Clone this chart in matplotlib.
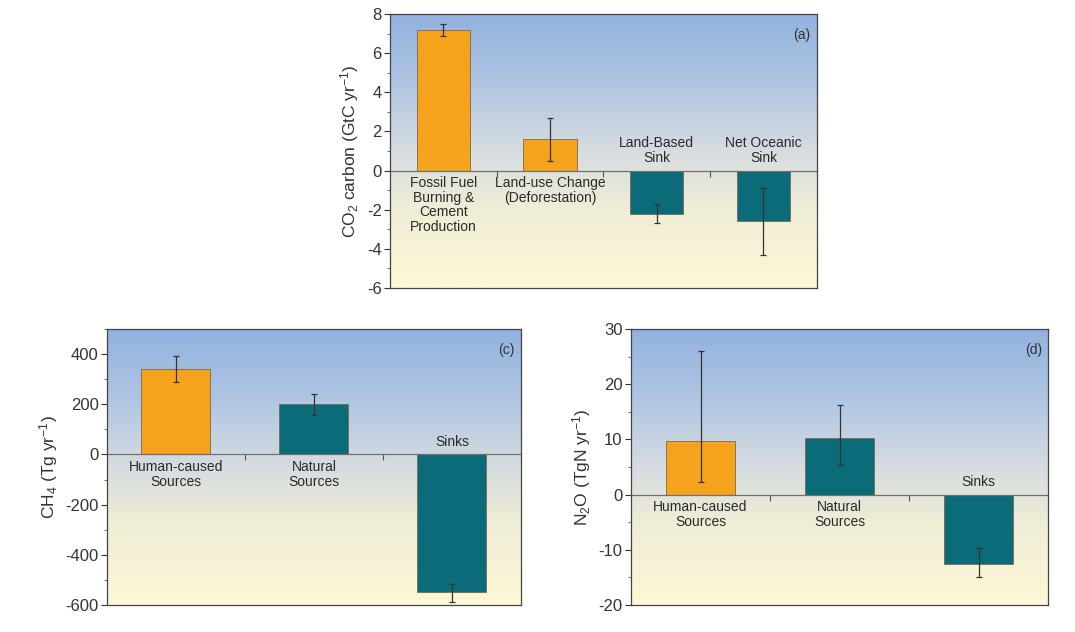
import numpy as np
import matplotlib
matplotlib.use("Agg")
import matplotlib.pyplot as plt
from matplotlib.colors import LinearSegmentedColormap

plt.rcParams['font.family'] = ['Liberation Sans', 'DejaVu Sans']
plt.rcParams['axes.unicode_minus'] = False
plt.rcParams['mathtext.fontset'] = 'custom'
plt.rcParams['mathtext.rm'] = 'Liberation Sans'
plt.rcParams['mathtext.it'] = 'Liberation Sans:italic'

# panel (a) CO2
co2_labels = ["Fossil Fuel\nBurning &\nCement\nProduction", "Land-use Change\n(Deforestation)",
              "Land-Based\nSink", "Net Oceanic\nSink"]
co2_vals = [7.2, 1.6, -2.2, -2.6]
co2_lo = [6.9, 0.5, -2.7, -4.3]
co2_hi = [7.5, 2.7, -1.7, -0.9]
co2_cols = ['orange', 'orange', 'teal', 'teal']

# panel (c) CH4
ch4_labels = ["Human-caused\nSources", "Natural\nSources", "Sinks"]
ch4_vals = [340, 200, -550]
ch4_lo = [290, 158, -588]
ch4_hi = [392, 240, -515]
ch4_cols = ['orange', 'teal', 'teal']

# panel (d) N2O
n2o_labels = ["Human-caused\nSources", "Natural\nSources", "Sinks"]
n2o_vals = [9.8, 10.3, -12.5]
n2o_lo = [2.3, 5.3, -15.0]
n2o_hi = [26.0, 16.2, -9.6]
n2o_cols = ['orange', 'teal', 'teal']

colors = {'orange': '#f5a31c', 'teal': '#0b6b78'}
bg = LinearSegmentedColormap.from_list(
    'bg', [(0.0, '#fdf8d6'), (0.3, '#efedd7'), (0.5, '#d6dce0'),
           (0.75, '#afc5e2'), (1.0, '#93b2df')])


def panel(ax, labels, vals, lo, hi, cols, ylim, major, minor, ylabel, tag):
    n = len(vals)
    x = np.arange(n)
    ax.set_xlim(-0.5, n - 0.5)
    ax.set_ylim(*ylim)
    grad = np.linspace(0, 1, 256).reshape(-1, 1)
    ax.imshow(grad, cmap=bg, aspect='auto', origin='lower', extent=[0, 1, 0, 1],
              transform=ax.transAxes, zorder=0)
    ax.bar(x, vals, width=0.5, color=[colors[c] for c in cols],
           edgecolor='#7a6a50', linewidth=0.6, zorder=2)
    vals = np.array(vals)
    err = [vals - np.array(lo), np.array(hi) - vals]
    ax.errorbar(x, vals, yerr=err, fmt='none', ecolor='#333333', elinewidth=0.9,
                capsize=2, capthick=0.9, zorder=3)
    ax.axhline(0, color='#707070', linewidth=0.9, zorder=2.5)
    for xi, v, lab in zip(x, vals, labels):
        if v >= 0:
            ax.annotate(lab, (xi, 0), xytext=(0, -4), textcoords='offset points',
                        ha='center', va='top', fontsize=10, color='#2a2a2a',
                        linespacing=1.05, zorder=4)
        else:
            ax.annotate(lab, (xi, 0), xytext=(0, 4), textcoords='offset points',
                        ha='center', va='bottom', fontsize=10, color='#2a2a2a',
                        linespacing=1.05, zorder=4)
    ax.set_xticks([])
    ax.set_yticks(np.arange(ylim[0], ylim[1] + 1e-9, major))
    ax.set_yticks(np.arange(ylim[0], ylim[1] + 1e-9, minor), minor=True)
    ax.tick_params(axis='y', which='major', length=4, width=0.8, labelsize=12,
                   colors='#333333', pad=2)
    ax.tick_params(axis='y', which='minor', length=2, width=0.6, colors='#555555')
    for s in ax.spines.values():
        s.set_color('#444444')
        s.set_linewidth(0.9)
    ax.set_ylabel(ylabel, fontsize=12.5, color='#333333')
    ax.text(0.985, 0.95, tag, transform=ax.transAxes, ha='right', va='top',
            fontsize=10, color='#333333', zorder=4)
    # tick marks between categories on the zero line
    zero = (0 - ylim[0]) / (ylim[1] - ylim[0])
    sec = ax.secondary_xaxis(zero)
    sec.set_xticks(np.arange(0.5, n - 0.5, 1.0))
    sec.tick_params(direction='out', length=4, width=0.8, colors='#555555', labelbottom=False,
                    labeltop=False, bottom=True, top=False)
    sec.spines['bottom'].set_visible(False)
    sec.spines['top'].set_visible(False)


fig = plt.figure(figsize=(10.75, 6.32), dpi=100)
axa = fig.add_axes([0.3628, 0.5443, 0.397, 0.4335])
axc = fig.add_axes([0.0995, 0.0427, 0.385, 0.4367])
axd = fig.add_axes([0.587, 0.0427, 0.388, 0.4367])

panel(axa, co2_labels, co2_vals, co2_lo, co2_hi, co2_cols, (-6, 8), 2, 1,
      r"CO$_2$ carbon (GtC yr$^{-1}$)", "(a)")
panel(axc, ch4_labels, ch4_vals, ch4_lo, ch4_hi, ch4_cols, (-600, 500), 200, 100,
      r"CH$_4$ (Tg yr$^{-1}$)", "(c)")
panel(axd, n2o_labels, n2o_vals, n2o_lo, n2o_hi, n2o_cols, (-20, 30), 10, 5,
      r"N$_2$O (TgN yr$^{-1}$)", "(d)")

axc.set_yticks([-600, -400, -200, 0, 200, 400])

fig.savefig("out.png", dpi=100)
